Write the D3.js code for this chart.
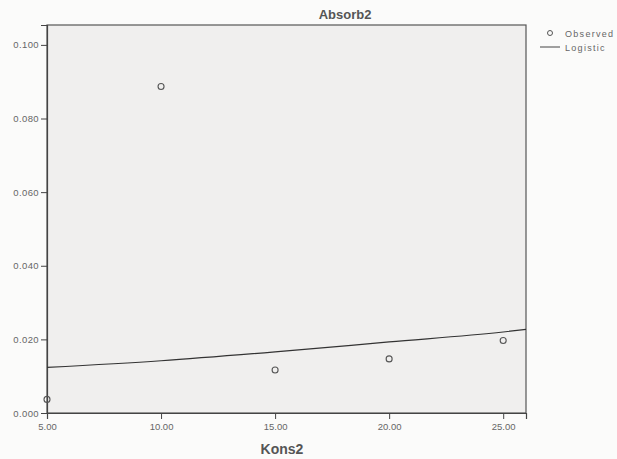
<!DOCTYPE html>
<html><head><meta charset="utf-8">
<script src="https://cdn.jsdelivr.net/npm/d3@7"></script>
<style>body{margin:0;background:#fbfbfa;} svg{display:block;}</style>
</head><body>
<svg id="c" width="617" height="459"></svg>
<script>
const obsX = [5, 10, 15, 20, 25];
const obsY = [0.0037, 0.0887, 0.0117, 0.0147, 0.0197];
const fitX = [5, 10, 15, 20, 25, 26];
const fitY = [0.0124, 0.0142, 0.0166, 0.0193, 0.0220, 0.0227];
const xTicks = [5, 10, 15, 20, 25];
const yTicks = [0, 0.02, 0.04, 0.06, 0.08, 0.1];

const svg = d3.select("#c");
const L = 47, R = 526, T = 25, B = 413;
const x = d3.scaleLinear().domain([5, 26]).range([L, R]);
const y = d3.scaleLinear().domain([0, 0.1054]).range([B, T]);
const FF = "Arial, 'Liberation Sans', sans-serif";

svg.append("rect").attr("width", 617).attr("height", 459).attr("fill", "#fbfbfa");
svg.append("rect").attr("x", L).attr("y", T).attr("width", R - L).attr("height", B - T)
  .attr("fill", "#f0efee").attr("stroke", "#555").attr("stroke-width", 1.2);

const fmtY = d3.format(".3f"), fmtX = d3.format(".2f");
const gy = svg.append("g").attr("transform", `translate(${L},0)`)
  .call(d3.axisLeft(y).tickValues(yTicks).tickFormat(fmtY).tickSize(6).tickPadding(2));
const gx = svg.append("g").attr("transform", `translate(0,${B})`)
  .call(d3.axisBottom(x).tickValues(xTicks).tickFormat(fmtX).tickSize(6).tickPadding(4));
[gy, gx].forEach(g => {
  g.select(".domain").attr("stroke", "#444").attr("stroke-width", 1.2);
  g.selectAll(".tick line").attr("stroke", "#444");
  g.selectAll("text").attr("fill", "#666").style("font-family", FF);
});
gy.selectAll("text").style("font-size", "9.5px").style("letter-spacing", "0.4px");
gx.selectAll("text").style("font-size", "9.5px");

const line = d3.line().x((d, i) => x(fitX[i])).y(d => y(d)).curve(d3.curveMonotoneX);
svg.append("path").datum(fitY).attr("d", line).attr("fill", "none").attr("stroke", "#333").attr("stroke-width", 1.2);

svg.selectAll("circle.obs").data(obsY).enter().append("circle").attr("class", "obs")
  .attr("cx", (d, i) => x(obsX[i])).attr("cy", d => y(d)).attr("r", 3)
  .attr("fill", "none").attr("stroke", "#555").attr("stroke-width", 1.1);

svg.append("text").attr("x", 345).attr("y", 19).attr("text-anchor", "middle")
  .style("font-family", FF).style("font-size", "13px").style("font-weight", "bold")
  .attr("fill", "#555").text("Absorb2");
svg.append("text").attr("x", 282).attr("y", 454).attr("text-anchor", "middle")
  .style("font-family", FF).style("font-size", "14px").style("font-weight", "bold")
  .attr("fill", "#555").text("Kons2");

// legend
const lg = svg.append("g").style("font-family", FF).style("font-size", "9px").style("letter-spacing", "1.3px");
lg.append("circle").attr("cx", 550).attr("cy", 33).attr("r", 2.5).attr("fill", "none").attr("stroke", "#555");
lg.append("text").attr("x", 565).attr("y", 36.5).attr("fill", "#666").text("Observed");
lg.append("line").attr("x1", 540).attr("x2", 560).attr("y1", 47).attr("y2", 47).attr("stroke", "#444");
lg.append("text").attr("x", 565).attr("y", 50.5).attr("fill", "#666").text("Logistic");
</script>
</body></html>
